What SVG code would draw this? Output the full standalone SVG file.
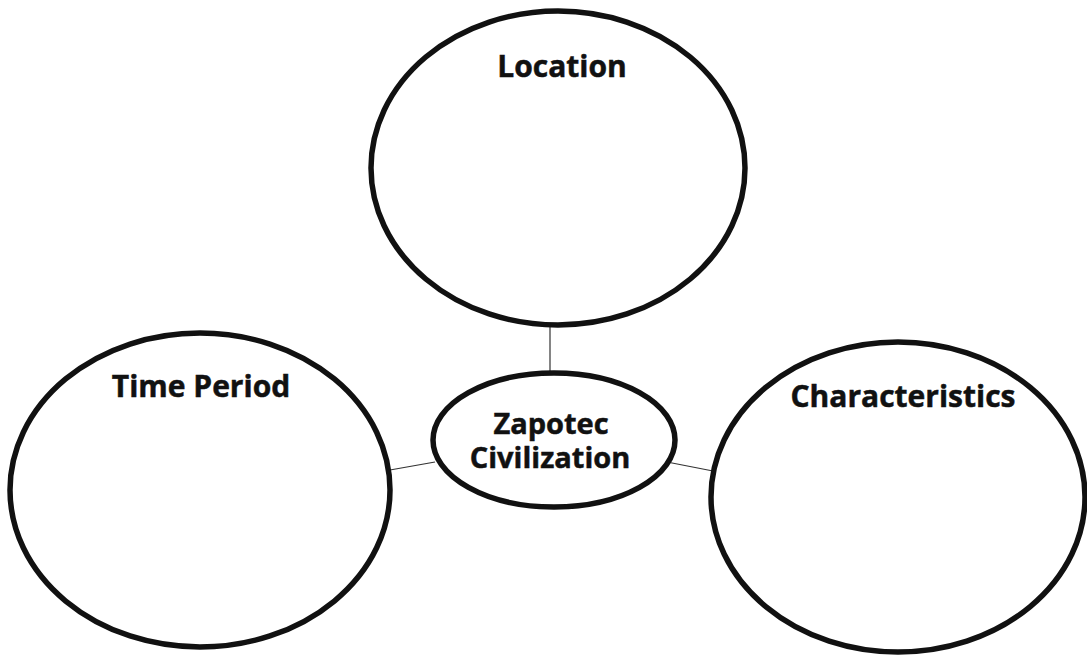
<svg xmlns="http://www.w3.org/2000/svg" width="1087" height="659" viewBox="0 0 1087 659">
  <style>
    .bubble { fill: #ffffff; stroke: #111111; stroke-width: 5.5; }
    .label { font-family: "Open Sans", "Liberation Sans", sans-serif; font-weight: 700; font-size: 30px; fill: #111111; stroke: #111111; stroke-width: 0.5; text-anchor: middle; }
    .center { font-size: 29px; }
    .conn { stroke: #333333; stroke-width: 1.2; fill: none; }
  </style>
  <rect x="0" y="0" width="1087" height="659" fill="#ffffff"/>
  <g id="connectors">
    <line class="conn" x1="550" y1="324" x2="550" y2="374"/>
    <line class="conn" x1="390" y1="470" x2="435" y2="462"/>
    <line class="conn" x1="667" y1="462" x2="713" y2="471"/>
  </g>
  <g id="node-location">
    <ellipse class="bubble" cx="558" cy="168" rx="187" ry="157"/>
    <text class="label" x="562" y="77">Location</text>
  </g>
  <g id="node-time-period">
    <ellipse class="bubble" cx="200" cy="490" rx="190" ry="157"/>
    <text class="label" x="201" y="397">Time Period</text>
  </g>
  <g id="node-characteristics">
    <ellipse class="bubble" cx="898" cy="497" rx="187" ry="155"/>
    <text class="label" x="903" y="407">Characteristics</text>
  </g>
  <g id="node-zapotec">
    <ellipse class="bubble" cx="554" cy="440" rx="121" ry="67"/>
    <text class="label center" x="551" y="434">Zapotec</text>
    <text class="label center" x="550" y="468">Civilization</text>
  </g>
</svg>
